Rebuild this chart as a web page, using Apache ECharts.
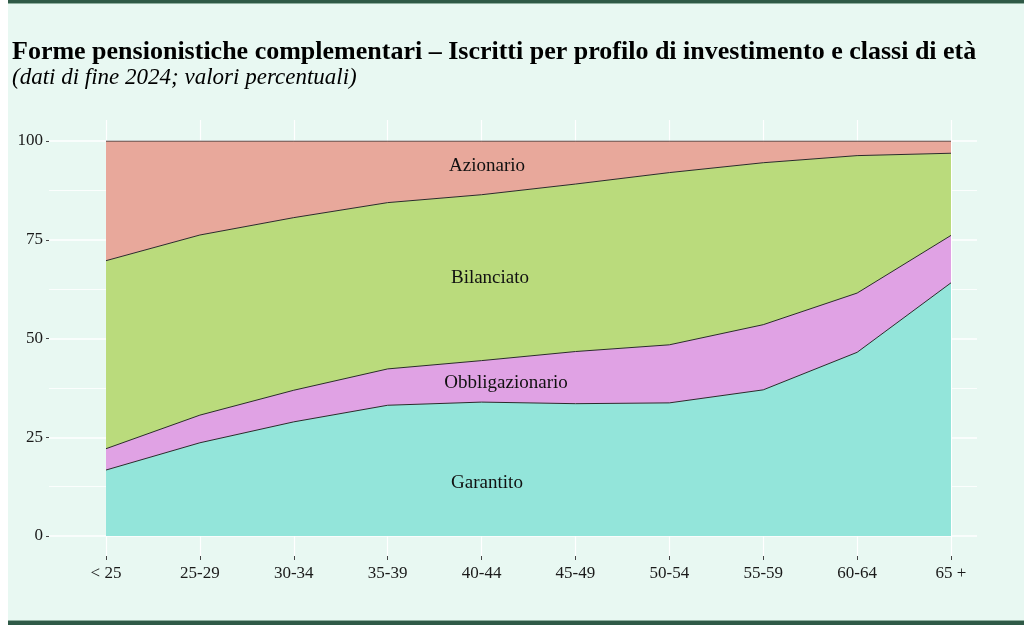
<!DOCTYPE html>
<html>
<head>
<meta charset="utf-8">
<script src="https://cdn.jsdelivr.net/npm/echarts@6/dist/echarts.min.js"></script>
<style>
  html, body { margin: 0; padding: 0; background: #ffffff; }
  #chart { width: 1024px; height: 625px; }
</style>
</head>
<body>
<div id="chart"></div>
<script>
// classi di età
const categories = ['< 25', '25-29', '30-34', '35-39', '40-44', '45-49', '50-54', '55-59', '60-64', '65 +'];

// quote per profilo (valori percentuali)
const garantito       = [16.7, 23.6, 28.9, 33.1, 33.9, 33.5, 33.7, 37.0, 46.5, 64.1];
const obbligazionario = [5.4, 7.0, 8.0, 9.2, 10.5, 13.2, 14.7, 16.5, 15.0, 12.0];
const bilanciato      = [47.6, 45.6, 43.7, 42.1, 42.0, 42.4, 43.6, 41.0, 34.8, 20.8];
const azionario       = [30.3, 23.8, 19.4, 15.6, 13.6, 10.9, 8.0, 5.5, 3.7, 3.1];

const yTicks = [0, 25, 50, 75, 100];

const serif = 'Liberation Serif';
const bg = '#e8f8f2';

const chart = echarts.init(document.getElementById('chart'));

function area(name, data, color) {
  return {
    name: name,
    type: 'line',
    xAxisIndex: 2,
    yAxisIndex: 2,
    stack: 'tot',
    data: data,
    symbol: 'none',
    silent: true,
    lineStyle: { color: '#2a2a2a', width: 1 },
    areaStyle: { color: color, opacity: 1 }
  };
}

function label(text, x, y) {
  return {
    type: 'text', z: 10, x: x, y: y,
    style: { text: text, font: '19px "Liberation Serif"', fill: '#111', textAlign: 'center', textVerticalAlign: 'middle' }
  };
}

const option = {
  animation: false,
  backgroundColor: '#ffffff',
  title: [
    {
      text: 'Forme pensionistiche complementari – Iscritti per profilo di investimento e classi di età',
      left: 12,
      top: 39,
      padding: 0,
      textStyle: { fontFamily: serif, fontWeight: 'bold', fontSize: 26, color: '#000' }
    },
    {
      text: '(dati di fine 2024; valori percentuali)',
      left: 12,
      top: 66,
      padding: 0,
      textStyle: { fontFamily: serif, fontStyle: 'italic', fontWeight: 'normal', fontSize: 23, color: '#000' }
    }
  ],
  graphic: [
    { type: 'rect', z: -10, shape: { x: 8, y: 0, width: 1016, height: 625 }, style: { fill: bg } },
    { type: 'rect', z: 10, shape: { x: 8, y: 0, width: 1016, height: 3 }, style: { fill: '#2f5a47' } },
    { type: 'rect', z: 10, shape: { x: 8, y: 3, width: 1016, height: 1 }, style: { fill: '#8fb0a0' } },
    { type: 'rect', z: 10, shape: { x: 8, y: 620, width: 1016, height: 1 }, style: { fill: '#8fb0a0' } },
    { type: 'rect', z: 10, shape: { x: 8, y: 621, width: 1016, height: 4 }, style: { fill: '#2f5a47' } },
    label('Azionario', 487, 166),
    label('Bilanciato', 490, 278),
    label('Obbligazionario', 506, 383),
    label('Garantito', 487, 483)
  ],
  grid: [
    // griglia orizzontale + etichette y
    { left: 49, right: 47, top: 141, bottom: 89 },
    // griglia verticale + etichette x
    { left: 106, right: 73, top: 120, bottom: 69 },
    // aree
    { left: 106, right: 73, top: 141, bottom: 89 }
  ],
  xAxis: [
    { gridIndex: 0, type: 'value', show: false, min: 0, max: 1 },
    {
      gridIndex: 1,
      type: 'category',
      boundaryGap: false,
      data: categories,
      axisLine: { show: false },
      axisTick: { show: true, length: 4, lineStyle: { color: '#444', width: 1 } },
      axisLabel: { fontFamily: serif, fontSize: 17, color: '#1a1a1a', margin: 9 },
      splitLine: { show: true, lineStyle: { color: '#ffffff', width: 1.2 } }
    },
    { gridIndex: 2, type: 'category', boundaryGap: false, data: categories, show: false }
  ],
  yAxis: [
    {
      gridIndex: 0,
      type: 'value',
      min: yTicks[0],
      max: yTicks[yTicks.length - 1],
      interval: 25,
      axisLine: { show: false },
      axisTick: { show: true, length: 3, lineStyle: { color: '#444', width: 1 } },
      axisLabel: { fontFamily: serif, fontSize: 17, color: '#1a1a1a', margin: 6 },
      splitLine: { show: true, lineStyle: { color: '#ffffff', width: 1.5 } },
      minorTick: { show: false, splitNumber: 2 },
      minorSplitLine: { show: true, lineStyle: { color: '#ffffff', width: 0.8 } }
    },
    { gridIndex: 1, type: 'value', show: false, min: 0, max: 1 },
    { gridIndex: 2, type: 'value', show: false, min: 0, max: 100 }
  ],
  series: [
    area('Garantito', garantito, '#93e5da'),
    area('Obbligazionario', obbligazionario, '#e0a2e4'),
    area('Bilanciato', bilanciato, '#badb7c'),
    area('Azionario', azionario, '#e8a89b')
  ]
};

chart.setOption(option);
</script>
</body>
</html>
